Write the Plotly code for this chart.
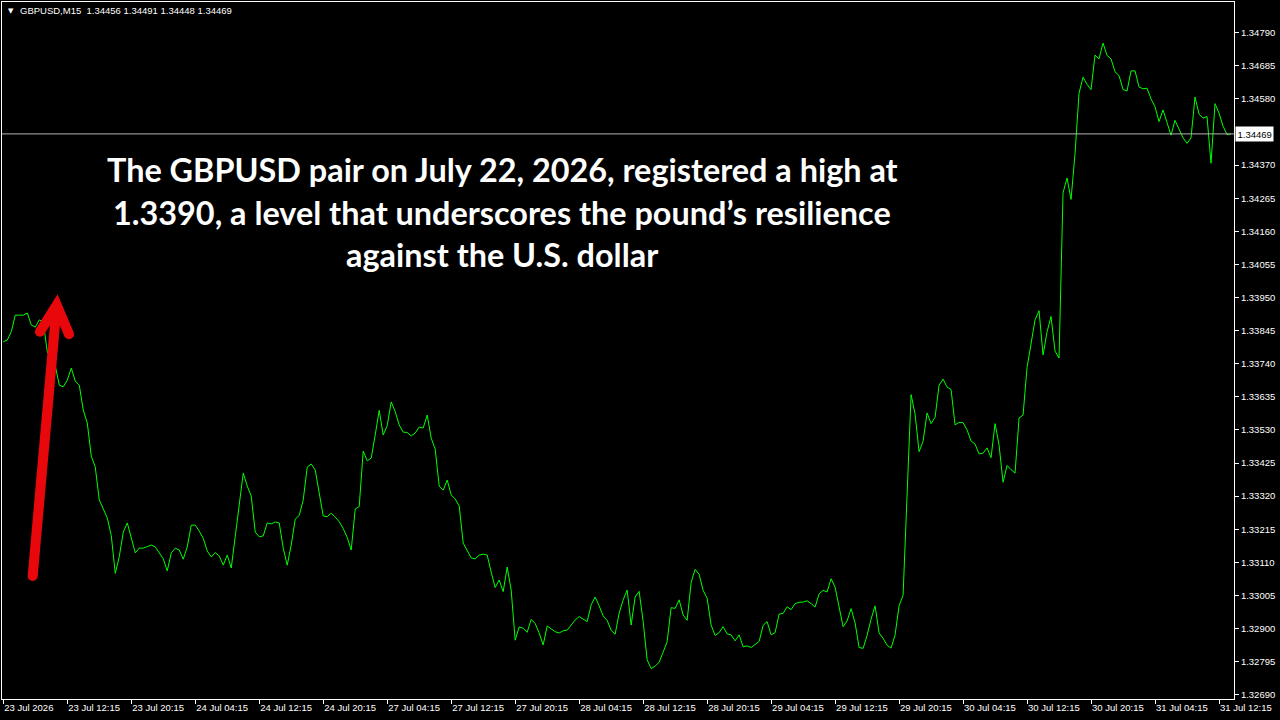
import plotly.graph_objects as go

# ---------------- data (GBPUSD M15 close, sampled every 2 bars) ----------------
prices = [
    1.33810, 1.33815, 1.33842, 1.33894, 1.33894, 1.33894, 1.33901, 1.33863, 1.33856, 1.33879,
    1.33873, 1.33777, 1.33752, 1.33733, 1.33672, 1.33667, 1.33688, 1.33726, 1.33685, 1.33672,
    1.33593, 1.33552, 1.33447, 1.33412, 1.33308, 1.33282, 1.33251, 1.33195, 1.33075, 1.33128,
    1.33206, 1.33235, 1.33187, 1.33140, 1.33155, 1.33155, 1.33160, 1.33165, 1.33159, 1.33140,
    1.33121, 1.33083, 1.33140, 1.33155, 1.33149, 1.33120, 1.33159, 1.33228, 1.33228, 1.33209,
    1.33186, 1.33146, 1.33127, 1.33141, 1.33130, 1.33101, 1.33133, 1.33092, 1.33197, 1.33287,
    1.33393, 1.33352, 1.33320, 1.33206, 1.33191, 1.33194, 1.33235, 1.33232, 1.33238, 1.33235,
    1.33155, 1.33101, 1.33165, 1.33247, 1.33259, 1.33308, 1.33412, 1.33422, 1.33403, 1.33330,
    1.33257, 1.33255, 1.33266, 1.33253, 1.33239, 1.33217, 1.33189, 1.33149, 1.33279, 1.33287,
    1.33463, 1.33432, 1.33441, 1.33514, 1.33592, 1.33514, 1.33544, 1.33619, 1.33588, 1.33546,
    1.33523, 1.33522, 1.33511, 1.33520, 1.33539, 1.33536, 1.33577, 1.33504, 1.33469, 1.33352,
    1.33339, 1.33371, 1.33324, 1.33311, 1.33289, 1.33171, 1.33149, 1.33124, 1.33121, 1.33133,
    1.33136, 1.33133, 1.33079, 1.33030, 1.33054, 1.33017, 1.33095, 1.33022, 1.32863, 1.32905,
    1.32901, 1.32888, 1.32929, 1.32916, 1.32886, 1.32848, 1.32908, 1.32899, 1.32890, 1.32886,
    1.32893, 1.32895, 1.32913, 1.32927, 1.32938, 1.32931, 1.32922, 1.32975, 1.33000, 1.32972,
    1.32940, 1.32926, 1.32894, 1.32882, 1.32949, 1.32991, 1.33022, 1.32911, 1.33000, 1.33018,
    1.32923, 1.32801, 1.32773, 1.32781, 1.32793, 1.32825, 1.32858, 1.32966, 1.32964, 1.32991,
    1.32943, 1.32926, 1.33046, 1.33088, 1.33072, 1.33021, 1.32996, 1.32911, 1.32878, 1.32887,
    1.32906, 1.32883, 1.32880, 1.32861, 1.32880, 1.32842, 1.32845, 1.32840, 1.32850, 1.32859,
    1.32910, 1.32922, 1.32880, 1.32887, 1.32946, 1.32948, 1.32969, 1.32960, 1.32979, 1.32983,
    1.32984, 1.32988, 1.32979, 1.32968, 1.33010, 1.33021, 1.33016, 1.33058, 1.33031, 1.32965,
    1.32906, 1.32924, 1.32963, 1.32918, 1.32840, 1.32837, 1.32878, 1.32930, 1.32972, 1.32886,
    1.32869, 1.32847, 1.32838, 1.32880, 1.32972, 1.33006, 1.33339, 1.33642, 1.33580, 1.33461,
    1.33494, 1.33584, 1.33550, 1.33570, 1.33672, 1.33691, 1.33666, 1.33658, 1.33546, 1.33554,
    1.33553, 1.33530, 1.33495, 1.33485, 1.33454, 1.33456, 1.33473, 1.33442, 1.33550, 1.33482,
    1.33364, 1.33417, 1.33404, 1.33393, 1.33568, 1.33577, 1.33728, 1.33809, 1.33879, 1.33908,
    1.33768, 1.33841, 1.33890, 1.33780, 1.33758, 1.34282, 1.34329, 1.34261, 1.34407, 1.34598,
    1.34649, 1.34626, 1.34609, 1.34719, 1.34707, 1.34757, 1.34718, 1.34707, 1.34666, 1.34654,
    1.34610, 1.34605, 1.34669, 1.34669, 1.34618, 1.34612, 1.34614, 1.34580, 1.34555, 1.34508,
    1.34545, 1.34505, 1.34465, 1.34512, 1.34483, 1.34457, 1.34439, 1.34456, 1.34586, 1.34532,
    1.34519, 1.34524, 1.34376, 1.34565, 1.34535, 1.34494, 1.34467, 1.34469,
]
bar_step = 2  # one sample every 2 M15 bars (30 min)
bar_index = list(range(0, bar_step * len(prices), bar_step))

x_tick_bars = [0, 32, 64, 96, 128, 160, 192, 224, 256, 288,
               320, 352, 384, 416, 448, 480, 512, 544, 576, 608]
x_tick_labels = ["23 Jul 2026", "23 Jul 12:15", "23 Jul 20:15", "24 Jul 04:15",
                 "24 Jul 12:15", "24 Jul 20:15", "27 Jul 04:15", "27 Jul 12:15",
                 "27 Jul 20:15", "28 Jul 04:15", "28 Jul 12:15", "28 Jul 20:15",
                 "29 Jul 04:15", "29 Jul 12:15", "29 Jul 20:15", "30 Jul 04:15",
                 "30 Jul 12:15", "30 Jul 20:15", "31 Jul 04:15", "31 Jul 12:15"]

y_tick_values = [1.32690, 1.32795, 1.32900, 1.33005, 1.33110, 1.33215, 1.33320,
                 1.33425, 1.33530, 1.33635, 1.33740, 1.33845, 1.33950, 1.34055,
                 1.34160, 1.34265, 1.34370, 1.34475, 1.34580, 1.34685, 1.34790]

current_price = 1.34469
header_values = ["1.34456", "1.34491", "1.34448", "1.34469"]
symbol = "GBPUSD,M15"
headline = [
    "The GBPUSD pair on July 22, 2026, registered a high at",
    "1.3390, a level that underscores the pound\u2019s resilience",
    "against the U.S. dollar",
]

# hide the axis label covered by the current-price box
shown_ticks = [v for v in y_tick_values if abs(v - current_price) > 0.0003]
shown_text = [f"{v:.5f}" for v in shown_ticks]

# ---------------- figure ----------------
W, H = 1280, 720
ML, MR, MT, MB = 2, 46, 2, 21
PW, PH = W - ML - MR, H - MT - MB


def px(x):
    return (x - ML) / PW


def py(y):
    return (H - MB - y) / PH


AX_FONT = dict(family="Liberation Sans, Arial, sans-serif", size=9.5, color="#FFFFFF")

fig = go.Figure()
fig.add_trace(go.Scatter(
    x=bar_index, y=prices, mode="lines",
    line=dict(color="#00FF00", width=1),
    hoverinfo="skip", showlegend=False,
))

fig.update_layout(
    width=W, height=H,
    margin=dict(l=ML, r=MR, t=MT, b=MB, pad=0, autoexpand=False),
    paper_bgcolor="#000000", plot_bgcolor="#000000",
    showlegend=False,
    xaxis=dict(
        range=[-0.65, 615.5], tickmode="array",
        tickvals=x_tick_bars, ticktext=x_tick_labels,
        ticks="outside", ticklen=4, tickcolor="#FFFFFF", tickwidth=1,
        ticklabelposition="outside right",
        showgrid=False, zeroline=False,
        showline=True, linecolor="#FFFFFF", linewidth=1, mirror=True,
        tickfont=AX_FONT, fixedrange=True, automargin=False,
    ),
    yaxis=dict(
        range=[1.326765, 1.348874], side="right", tickmode="array",
        tickvals=shown_ticks, ticktext=shown_text,
        ticks="outside", ticklen=4, tickcolor="#FFFFFF", tickwidth=1,
        showgrid=False, zeroline=False,
        showline=True, linecolor="#FFFFFF", linewidth=1, mirror=True,
        tickfont=AX_FONT, fixedrange=True, automargin=False,
    ),
)

# current price line
fig.add_shape(type="line", xref="paper", yref="y", x0=0, x1=1,
              y0=current_price, y1=current_price,
              line=dict(color="#B4B4B4", width=1), layer="above")

# current price label box
fig.add_annotation(xref="paper", yref="y", x=1, y=current_price,
                   xanchor="left", yanchor="middle", xshift=1,
                   text=f"{current_price:.5f}", showarrow=False,
                   bgcolor="#FFFFFF", borderpad=1.5,
                   font=dict(family="Liberation Sans, Arial, sans-serif", size=9.5, color="#000000"))

# header
fig.add_annotation(xref="paper", yref="paper", x=px(5.5), y=py(10.5),
                   xanchor="left", yanchor="middle", text="\u25BC", showarrow=False,
                   font=dict(family="DejaVu Sans", size=7, color="#FFFFFF"))
fig.add_annotation(xref="paper", yref="paper", x=px(17.5), y=py(10.5),
                   xanchor="left", yanchor="middle",
                   text=symbol + "\u00a0\u00a0" + " ".join(header_values),
                   showarrow=False, font=AX_FONT)

# headline text
for line_text, yc in zip(headline, [169, 212, 254]):
    fig.add_annotation(xref="paper", yref="paper", x=px(502), y=py(yc),
                       xanchor="center", yanchor="middle",
                       text=f"<b>{line_text}</b>", showarrow=False,
                       font=dict(family="Lato, Open Sans, sans-serif", size=32.4, color="#FFFFFF"))

# red arrow
ARROW = "#E8080B"
bx, by = px(32.7), py(576)
tx, ty = px(56.7), py(305)
lx, ly = px(40), py(331.7)
rx, ry = px(69), py(334.3)
fig.add_shape(type="path", xref="paper", yref="paper",
              path=f"M {bx},{by} L {tx},{ty} M {lx},{ly} L {tx},{ty} L {rx},{ry}",
              line=dict(color=ARROW, width=10), layer="above")
r = 5
for cx, cy in [(32.7, 576), (40, 331.7), (69, 334.3)]:
    fig.add_shape(type="circle", xref="paper", yref="paper",
                  x0=px(cx - r), x1=px(cx + r), y0=py(cy + r), y1=py(cy - r),
                  fillcolor=ARROW, line=dict(width=0), layer="above")

fig.write_html("out.html", config={"displayModeBar": False},
               post_script="document.body.style.margin='0';document.body.style.padding='0';")
